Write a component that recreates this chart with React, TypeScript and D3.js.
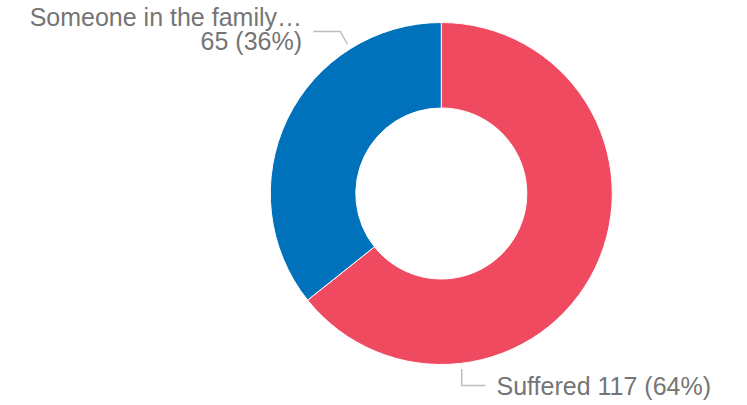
import React from "react";
import * as d3 from "d3";

const categories = ["Suffered", "Someone in the family…"];
const values = [117, 65];
const percents = ["64%", "36%"];
const colors = ["#EF4A60", "#0071BB"];

const W = 747;
const H = 405;
const cx = 441.3;
const cy = 193.5;
const outerR = 171;
const innerR = 85.5;

export default function App() {
  const pie = d3.pie<number>().sort(null).value((d) => d);
  const arcs = pie(values);
  const arcGen = d3.arc<d3.PieArcDatum<number>>().innerRadius(innerR).outerRadius(outerR);
  const font = "'Liberation Sans', Arial, sans-serif";
  const textColor = "#757575";
  const lineColor = "#BDBDBD";

  // leader line geometry relative to the chart centre
  const blueStart = { x: cx - 94, y: cy - 149.5 };
  const redStart = { x: cx + 20.4, y: cy + 175.5 };

  return (
    <svg width={W} height={H} style={{ position: "absolute", left: 0, top: 0, background: "#fff" }}>
      <g transform={`translate(${cx},${cy})`}>
        {arcs.map((a, i) => (
          <path key={i} d={arcGen(a) || ""} fill={colors[i]} stroke="#fff" strokeWidth={1} />
        ))}
      </g>
      {/* blue label */}
      <polyline
        points={`${blueStart.x},${blueStart.y} ${blueStart.x - 7},${blueStart.y - 12.5} ${blueStart.x - 34},${blueStart.y - 12.5}`}
        fill="none"
        stroke={lineColor}
        strokeWidth={1.5}
      />
      <text textAnchor="end" fontFamily={font} fontSize={25} fill={textColor}>
        <tspan x={302} y={26}>{categories[1]}</tspan>
        <tspan x={302} y={50}>{`${values[1]} (${percents[1]})`}</tspan>
      </text>
      {/* red label */}
      <polyline
        points={`${redStart.x},${redStart.y} ${redStart.x},${redStart.y + 16.5} ${redStart.x + 23.5},${redStart.y + 16.5}`}
        fill="none"
        stroke={lineColor}
        strokeWidth={1.5}
      />
      <text x={496.5} y={395} textAnchor="start" fontFamily={font} fontSize={25} fill={textColor}>
        {`${categories[0]} ${values[0]} (${percents[0]})`}
      </text>
    </svg>
  );
}
